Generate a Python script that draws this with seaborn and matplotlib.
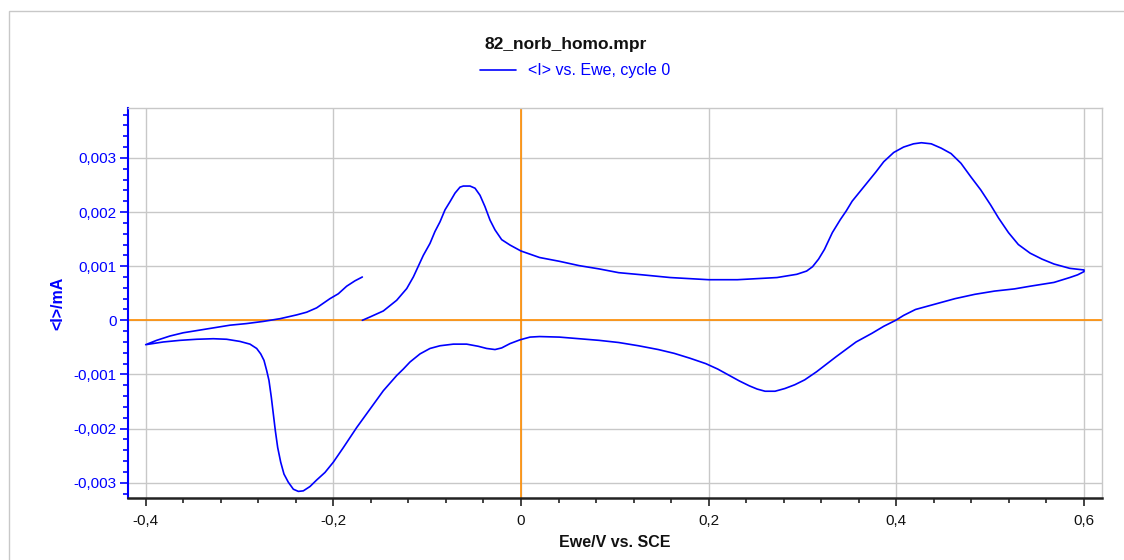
import matplotlib
matplotlib.use("Agg")
import matplotlib.pyplot as plt
from matplotlib.patches import Rectangle
from matplotlib.ticker import MultipleLocator, FuncFormatter
import seaborn as sns
import pandas as pd

# Cyclic voltammogram, cycle 0: potential (V vs. SCE) and mean current (mA), in scan order
ewe_v = [
    # anodic sweep from the start potential
    -0.1691, -0.1609, -0.1467, -0.1325, -0.1218, -0.1147, -0.1094, -0.1041, -0.0970, -0.0917,
    -0.0863, -0.0810, -0.0757, -0.0703, -0.0650, -0.0615, -0.0543, -0.0490, -0.0437, -0.0384,
    -0.0330, -0.0277, -0.0206, -0.0117, 0.0000, 0.0198, 0.0409, 0.0620, 0.0831, 0.1041,
    0.1294, 0.1590, 0.1999, 0.2306, 0.2517, 0.2728, 0.2939, 0.3044, 0.3107, 0.3171,
    0.3234, 0.3318, 0.3403, 0.3466, 0.3529, 0.3613, 0.3698, 0.3782, 0.3866, 0.3972,
    0.4077, 0.4183, 0.4267, 0.4372, 0.4478, 0.4583, 0.4689, 0.4794, 0.4899, 0.5005,
    0.5089, 0.5195, 0.5300, 0.5426, 0.5553, 0.5680, 0.5848, 0.6000,
    # cathodic sweep
    0.6000, 0.5932, 0.5848, 0.5680, 0.5426, 0.5258, 0.5047, 0.4836, 0.4625, 0.4415,
    0.4204, 0.4077, 0.3993, 0.3866, 0.3740, 0.3571, 0.3360, 0.3150, 0.3023, 0.2918,
    0.2812, 0.2707, 0.2601, 0.2517, 0.2433, 0.2327, 0.2222, 0.2096, 0.1969, 0.1800,
    0.1632, 0.1463, 0.1252, 0.1041, 0.0831, 0.0620, 0.0409, 0.0198, 0.0096, -0.0010,
    -0.0117, -0.0206, -0.0277, -0.0366, -0.0455, -0.0579, -0.0721, -0.0863, -0.0970, -0.1076,
    -0.1183, -0.1254, -0.1325, -0.1467, -0.1609, -0.1751, -0.1893, -0.2000, -0.2089, -0.2178,
    -0.2249, -0.2320, -0.2373, -0.2426, -0.2480, -0.2526, -0.2561, -0.2593, -0.2618, -0.2639,
    -0.2661, -0.2686, -0.2710, -0.2739, -0.2774, -0.2817, -0.2888, -0.2995, -0.3137, -0.3279,
    -0.3456, -0.3634, -0.3812, -0.4000,
    # return anodic sweep
    -0.3883, -0.3741, -0.3599, -0.3456, -0.3279, -0.3101, -0.2924, -0.2746, -0.2568, -0.2391,
    -0.2284, -0.2178, -0.2036, -0.1947, -0.1858, -0.1769, -0.1691,
]
i_ma = [
    0.0, 0.000062, 0.000173, 0.00037, 0.000586, 0.000802, 0.00100, 0.00120, 0.00142, 0.00164,
    0.00182, 0.00204, 0.00219, 0.00235, 0.00246, 0.00248, 0.00248, 0.00244, 0.00231, 0.00210,
    0.00185, 0.00167, 0.00149, 0.00139, 0.00128, 0.00116, 0.00109, 0.00101, 0.00095, 0.00088,
    0.00084, 0.00079, 0.00075, 0.00075, 0.00077, 0.00079, 0.00085, 0.00091, 0.00099, 0.00113,
    0.00131, 0.00162, 0.00186, 0.00202, 0.00220, 0.00238, 0.00256, 0.00274, 0.00293, 0.00310,
    0.00320, 0.00326, 0.00328, 0.00326, 0.00318, 0.00308, 0.00290, 0.00265, 0.00241, 0.00213,
    0.00189, 0.00162, 0.00140, 0.00124, 0.00113, 0.00104, 0.00096, 0.00093,
    0.00090, 0.00084, 0.00079, 0.00070, 0.00063, 0.00058, 0.00054, 0.00048, 0.00040, 0.00030,
    0.00020, 0.00009, 0.0, -0.00011, -0.00024, -0.00040, -0.00067, -0.00095, -0.00110, -0.00119,
    -0.00126, -0.00131, -0.00131, -0.00127, -0.00121, -0.00112, -0.00102, -0.00090, -0.00080, -0.00070,
    -0.00061, -0.00054, -0.00047, -0.00041, -0.00037, -0.00034, -0.00031, -0.00030, -0.00031, -0.00036,
    -0.00043, -0.00051, -0.00054, -0.00052, -0.00048, -0.00044, -0.00044, -0.00047, -0.00052, -0.00062,
    -0.00077, -0.00090, -0.00102, -0.00130, -0.00164, -0.00198, -0.00235, -0.00262, -0.00281, -0.00295,
    -0.00307, -0.00315, -0.00316, -0.00312, -0.00299, -0.00284, -0.00262, -0.00235, -0.00204, -0.00173,
    -0.00142, -0.00111, -0.00093, -0.00074, -0.00062, -0.00052, -0.00044, -0.00039, -0.00035, -0.00034,
    -0.00035, -0.00037, -0.00040, -0.00045,
    -0.00037, -0.00029, -0.00023, -0.00019, -0.00014, -0.00009, -0.00006, -0.00002, 0.00003, 0.00010,
    0.00015, 0.00023, 0.00040, 0.00049, 0.00063, 0.00073, 0.00080,
]

title_text = "82_norb_homo.mpr"
series_label = "<I> vs. Ewe, cycle 0"
x_label = "Ewe/V vs. SCE"
y_label = "<I>/mA"

sns.set_style("white")
plt.rcParams["font.family"] = ["Liberation Sans", "DejaVu Sans"]

BLUE = "#0000ff"
ORANGE = "#ff8c00"
GRID = "#c8c8c8"

fig = plt.figure(figsize=(11.24, 5.6), dpi=100)
ax = fig.add_axes([0.1139, 0.1112, 0.9802 - 0.1139, 0.8066 - 0.1112])

# outer frame of the plot window
fig.patches.append(Rectangle((9 / 1124, -0.2), 1.2, 0.2 + 1 - 10.5 / 560,
                             transform=fig.transFigure, fill=False,
                             edgecolor=GRID, linewidth=1.0))

df = pd.DataFrame({"E": ewe_v, "I": i_ma})
sns.lineplot(data=df, x="E", y="I", sort=False, estimator=None, ax=ax,
             color=BLUE, linewidth=1.2, label=series_label, zorder=5)

ax.set_xlim(-0.4188, 0.6189)
ax.set_ylim(-0.003277, 0.003916)

ax.xaxis.set_major_locator(MultipleLocator(0.2))
ax.xaxis.set_minor_locator(MultipleLocator(0.04))
ax.yaxis.set_major_locator(MultipleLocator(0.001))
ax.yaxis.set_minor_locator(MultipleLocator(0.0002))

def comma_fmt(decimals):
    def f(v, _):
        if abs(v) < 1e-12:
            return "0"
        return f"{v:.{decimals}f}".replace(".", ",")
    return FuncFormatter(f)

ax.xaxis.set_major_formatter(comma_fmt(1))
ax.yaxis.set_major_formatter(comma_fmt(3))

ax.grid(True, which="major", color=GRID, linewidth=1.0, zorder=0)
ax.axhline(0, color=ORANGE, linewidth=1.2, zorder=1)
ax.axvline(0, color=ORANGE, linewidth=1.2, zorder=1)

for side in ("top", "right"):
    ax.spines[side].set_color(GRID)
    ax.spines[side].set_linewidth(1.0)
ax.spines["left"].set_color(BLUE)
ax.spines["left"].set_linewidth(1.5)
ax.spines["bottom"].set_color("#222222")
ax.spines["bottom"].set_linewidth(1.8)

ax.tick_params(axis="y", which="major", direction="out", length=6, width=1.2,
               color=BLUE, labelcolor=BLUE, labelsize=11, pad=2, left=True)
ax.tick_params(axis="y", which="minor", direction="out", length=3.5, width=1.2,
               color=BLUE, left=True)
ax.tick_params(axis="x", which="major", direction="out", length=6, width=1.2,
               color="#222222", labelcolor="#111111", labelsize=11, pad=6, bottom=True)
ax.tick_params(axis="x", which="minor", direction="out", length=3.5, width=1.2,
               color="#222222", bottom=True)

ax.set_xlabel(x_label, fontsize=11.5, fontweight="bold", color="#111111", labelpad=5)
ax.set_ylabel(y_label, fontsize=11.5, fontweight="bold", color=BLUE, labelpad=6)

fig.text(0.503, 1 - 44 / 560, title_text, ha="center", va="center",
         fontsize=12.5, fontweight="bold", color="#111111")

leg = ax.legend(loc="center", bbox_to_anchor=(0.512, 1 - 71 / 560),
                bbox_transform=fig.transFigure, frameon=False, fontsize=11.5,
                handlelength=2.2, handletextpad=0.8, borderpad=0)
for t in leg.get_texts():
    t.set_color(BLUE)

fig.savefig("out.png", dpi=100)
